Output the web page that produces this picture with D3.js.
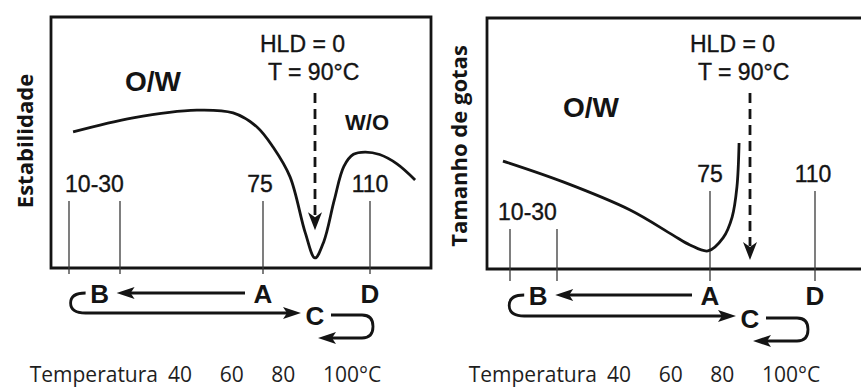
<!DOCTYPE html>
<html>
<head>
<meta charset="utf-8">
<script src="https://cdn.jsdelivr.net/npm/d3@7"></script>
<style>
  html, body { margin: 0; padding: 0; background: #fff; }
  svg { display: block; }
</style>
</head>
<body>
<svg id="chart" width="861" height="389"></svg>
<script>
// ---- data ----
const tempDomain = [10, 30, 75, 90, 110];          // breakpoints of the schematic temperature axis (°C)
const tickGroups = [[10, 30], [75], [110]];         // temperatures marked with vertical lines
const tickLabels = ["10-30", "75", "110"];
const hldTemp = 90;                                  // HLD = 0 at 90 °C
const hldLabels = ["HLD = 0", "T = 90°C"];

// stability (relative units 0-100) vs temperature
const stabilityTemps  = [11.6, 34.1, 54.2, 65.6, 73.1, 77.9, 82.8, 87.2, 90, 93.2, 97.0, 100.5, 104.0, 108.2, 113.5, 119.8, 126.4];
const stabilityValues = [54.2, 59.8, 62.9, 61.8, 56.2, 48.2, 36.3, 14.0, 4.0, 10.5, 27.0, 40.5, 45.3, 46.2, 45.2, 41.5, 35.1];

// droplet size (relative units 0-100) vs temperature
const dropTemps  = [7.0, 31.8, 51.5, 64.1, 69.1, 74.4, 79.9, 83.3, 85.1, 85.9];
const dropValues = [43.0, 34.7, 23.5, 13.5, 9.6, 7.2, 12.4, 20.7, 32.7, 50.2];

// emulsification path A -> B -> C -> D
const stageNames = ["A", "B", "C", "D"];
const stageTemps = [75, 22, 90, 110];

// printed temperature scale under each panel
const axisTitle = "Temperatura";
const axisValues = [40, 60, 80, 100];
const axisLabels = ["40", "60", "80", "100°C"];

// ---- layout ----
const panels = [
  {
    yTitle: "Estabilidade", yTitleX: 33, yTitleY: 141,
    frame: { left: 51, top: 17, right: 431, bottom: 268, open: false },
    tempRange: [69, 120, 263, 315, 370],
    temps: stabilityTemps, values: stabilityValues,
    tickLabelY: [192, 192, 192], tickLabelDx: [0, -3, 0], tickBottom: 274,
    dashTop: 93, dashEnd: 15,
    regionLabels: [{ t: "O/W", x: 125, y: 91, size: 28 }, { t: "W/O", x: 345, y: 130, size: 22 }],
    hldY: [52, 80], hldDx: [-55, -47],
    row1: 303, row2: 325,
    axisRange: [168, 323], axisY: 382
  },
  {
    yTitle: "Tamanho de gotas", yTitleX: 467, yTitleY: 146,
    frame: { left: 487, top: 18, right: 870, bottom: 269, open: true },
    tempRange: [510, 557, 710, 750, 815],
    temps: dropTemps, values: dropValues,
    tickLabelY: [220, 182, 182], tickLabelDx: [-6, 0, -2], tickBottom: 281,
    dashTop: 93, dashEnd: 3.6,
    regionLabels: [{ t: "O/W", x: 563, y: 117, size: 28 }],
    hldY: [52, 80], hldDx: [-60, -52],
    row1: 305, row2: 328,
    axisRange: [607, 762], axisY: 382
  }
];

const ink = "#141414";
const svg = d3.select("#chart");

function headLeft(g, x, y) {
  g.append("path")
    .attr("d", `M${x},${y} L${x + 18},${y - 6} L${x + 14},${y} L${x + 18},${y + 6} Z`)
    .attr("fill", ink);
}
function headRight(g, x, y) {
  g.append("path")
    .attr("d", `M${x},${y} L${x - 18},${y - 6} L${x - 14},${y} L${x - 18},${y + 6} Z`)
    .attr("fill", ink);
}
function headDown(g, x, y) {
  g.append("path")
    .attr("d", `M${x},${y} L${x - 7},${y - 18} L${x},${y - 13} L${x + 7},${y - 18} Z`)
    .attr("fill", ink);
}

// regular-weight text gets a hairline outline so it reads as heavy as the bold marks
const sansText = sel => sel
  .attr("font-family", "Liberation Sans, Arial, sans-serif")
  .attr("font-size", 23)
  .attr("fill", ink)
  .attr("stroke", ink).attr("stroke-width", 0.35);

panels.forEach(p => {
  const g = svg.append("g");
  const f = p.frame;
  const x = d3.scaleLinear().domain(tempDomain).range(p.tempRange);
  const y = d3.scaleLinear().domain([0, 100]).range([f.bottom, f.top]);

  // frame
  const framePath = f.open
    ? `M${f.right},${f.top} H${f.left} V${f.bottom} H${f.right}`
    : `M${f.left},${f.top} H${f.right} V${f.bottom} H${f.left} Z`;
  g.append("path").attr("d", framePath)
    .attr("fill", "none").attr("stroke", ink).attr("stroke-width", 2.8);

  // y title
  g.append("text")
    .attr("transform", `translate(${p.yTitleX},${p.yTitleY}) rotate(-90)`)
    .attr("text-anchor", "middle")
    .attr("font-family", "Open Sans, sans-serif")
    .attr("font-weight", 700)
    .attr("font-size", 22)
    .attr("fill", ink)
    .text(p.yTitle);

  // temperature marker lines and labels
  tickGroups.forEach((temps, i) => {
    const top = p.tickLabelY[i] + 9;
    temps.forEach(t => {
      g.append("line")
        .attr("x1", x(t)).attr("x2", x(t))
        .attr("y1", top).attr("y2", p.tickBottom)
        .attr("stroke", "#3a3a3a").attr("stroke-width", 1.3);
    });
    g.append("text")
      .attr("x", d3.mean(temps, t => x(t)) + p.tickLabelDx[i])
      .attr("y", p.tickLabelY[i])
      .attr("text-anchor", "middle")
      .call(sansText)
      .text(tickLabels[i]);
  });

  // curve
  const pts = p.temps.map((t, i) => [t, p.values[i]]);
  g.append("path")
    .datum(pts)
    .attr("d", d3.line().x(d => x(d[0])).y(d => y(d[1])).curve(d3.curveCatmullRom.alpha(0.5)))
    .attr("fill", "none").attr("stroke", ink).attr("stroke-width", 2.8)
    .attr("stroke-linejoin", "round");

  // region labels
  p.regionLabels.forEach(r => {
    g.append("text")
      .attr("x", r.x).attr("y", r.y)
      .attr("font-family", "Liberation Sans, Arial, sans-serif")
      .attr("font-weight", 700)
      .attr("font-size", r.size)
      .attr("fill", ink)
      .text(r.t);
  });

  // HLD = 0 annotation and dashed arrow
  const hx = x(hldTemp);
  hldLabels.forEach((t, i) => {
    g.append("text")
      .attr("x", hx + p.hldDx[i]).attr("y", p.hldY[i])
      .call(sansText)
      .text(t);
  });
  const tipY = y(p.dashEnd);
  g.append("line")
    .attr("x1", hx).attr("x2", hx)
    .attr("y1", p.dashTop).attr("y2", tipY - 14)
    .attr("stroke", ink).attr("stroke-width", 2.8)
    .attr("stroke-dasharray", "10,6");
  headDown(g, hx, tipY);

  // emulsification path letters
  const sx = {};
  stageNames.forEach((s, i) => {
    sx[s] = x(stageTemps[i]);
    g.append("text")
      .attr("x", sx[s]).attr("y", s === "C" ? p.row2 : p.row1)
      .attr("text-anchor", "middle")
      .attr("font-family", "Liberation Sans, Arial, sans-serif")
      .attr("font-weight", 700)
      .attr("font-size", 26)
      .attr("fill", ink)
      .text(s);
  });

  const pathStyle = sel => sel.attr("fill", "none").attr("stroke", ink).attr("stroke-width", 2.8);

  // A -> B
  const yAB = p.row1 - 10;
  g.append("line")
    .attr("x1", sx.A - 18).attr("x2", sx.B + 30)
    .attr("y1", yAB).attr("y2", yAB).call(pathStyle);
  headLeft(g, sx.B + 17, yAB);

  // B -> C (hook under B)
  const yBC = p.row2 - 12;
  const bx0 = sx.B - 14, bxL = sx.B - 29;
  g.append("path")
    .attr("d", `M${bx0},${yAB} Q${bxL},${yAB} ${bxL},${(yAB + yBC) / 2} Q${bxL},${yBC} ${bx0},${yBC} L${sx.C - 26},${yBC}`)
    .call(pathStyle);
  headRight(g, sx.C - 14, yBC);

  // C -> back (hook right of C)
  const yC1 = p.row2 - 10, yC2 = p.row2 + 13;
  const cx0 = sx.C + 16, cx1 = sx.C + 47, cxR = sx.C + 58;
  g.append("path")
    .attr("d", `M${cx0},${yC1} L${cx1},${yC1} Q${cxR},${yC1} ${cxR},${(yC1 + yC2) / 2} Q${cxR},${yC2} ${cx1},${yC2} L${sx.C + 14},${yC2}`)
    .call(pathStyle);
  headLeft(g, sx.C + 3, yC2);

  // printed temperature scale
  const ax = d3.scaleLinear().domain([axisValues[0], axisValues[axisValues.length - 1]]).range(p.axisRange);
  g.append("text")
    .attr("x", ax(axisValues[0]) - 10).attr("y", p.axisY)
    .attr("text-anchor", "end")
    .attr("font-family", "Open Sans, sans-serif")
    .attr("font-size", 21)
    .attr("fill", "#1e1e1e")
    .text(axisTitle);
  axisValues.forEach((v, i) => {
    g.append("text")
      .attr("x", ax(v)).attr("y", p.axisY)
      .attr("font-family", "Open Sans, sans-serif")
      .attr("font-size", 21)
      .attr("fill", "#1e1e1e")
      .text(axisLabels[i]);
  });
});
</script>
</body>
</html>
